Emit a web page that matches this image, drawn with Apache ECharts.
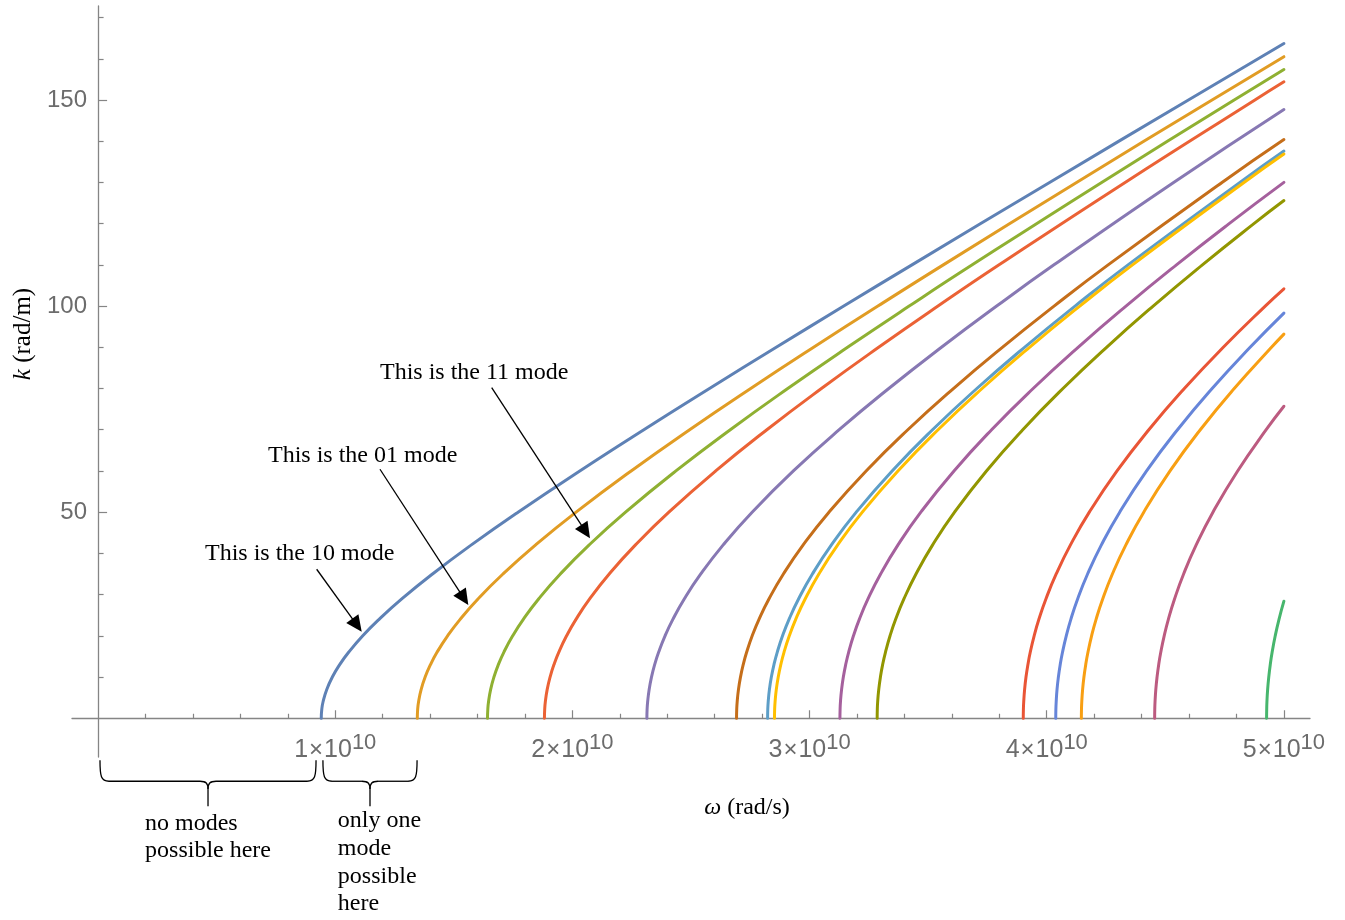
<!DOCTYPE html>
<html>
<head>
<meta charset="utf-8">
<script src="https://cdn.jsdelivr.net/npm/echarts@6/dist/echarts.min.js"></script>
<style>
html,body{margin:0;padding:0;background:#ffffff;}
#c{width:1345px;height:920px;}
</style>
</head>
<body>
<div id="c"></div>
<script>
// ---- Data: points [omega (x 1e10 rad/s), k (rad/m)] ----
const modeNames = ['10','01','11','20','21','02','30','12','31','22','32','03','13','23','33'];
const mode10 = [[0.941,0],[0.9429,2],[0.9486,4],[0.9642,7],[0.9877,10],[1.0186,13],[1.0564,16],[1.116,20],[1.1849,24],[1.2816,29],[1.41,35],[1.5726,42],[1.7707,50],[2.0311,60],[2.3012,70],[2.5779,80],[2.8593,90],[3.1441,100],[3.4316,110],[4.0119,130],[4.5973,150],[5,163.7]];
const mode01 = [[1.346,0],[1.3473,2],[1.3513,4],[1.3623,7],[1.379,10],[1.4014,13],[1.429,16],[1.4737,20],[1.5265,24],[1.6027,29],[1.7071,35],[1.8437,42],[2.0154,50],[2.2476,60],[2.4943,70],[2.7517,80],[3.0169,90],[3.2881,100],[3.5639,110],[4.1257,130],[4.697,150],[5,160.5]];
const mode11 = [[1.642,0],[1.6431,2],[1.6463,4],[1.6553,7],[1.6691,10],[1.6876,13],[1.7107,16],[1.7481,20],[1.7929,24],[1.8582,29],[1.949,35],[2.0697,42],[2.224,50],[2.4364,60],[2.6657,70],[2.9079,80],[3.1601,90],[3.42,100],[3.6859,110],[4.2315,130],[4.7902,150],[5,157.4]];
const mode20 = [[1.882,0],[1.883,2],[1.8858,4],[1.8937,7],[1.9058,10],[1.922,13],[1.9423,16],[1.9754,20],[2.015,24],[2.0734,29],[2.1551,35],[2.2649,42],[2.4067,50],[2.6042,60],[2.8199,70],[3.0499,80],[3.2912,90],[3.5415,100],[3.799,110],[4.3304,130],[4.8777,150],[5,154.4]];
const mode21 = [[2.314,0],[2.3148,2],[2.3172,4],[2.3236,7],[2.3335,10],[2.3467,13],[2.3634,16],[2.3906,20],[2.4235,24],[2.4722,29],[2.5412,35],[2.6349,42],[2.7577,50],[2.9317,60],[3.1249,70],[3.3339,80],[3.556,90],[3.7888,100],[4.0305,110],[4.5349,130],[5,147.7]];
const mode02 = [[2.692,0],[2.6927,2],[2.6947,4],[2.7002,7],[2.7087,10],[2.7201,13],[2.7345,16],[2.7581,20],[2.7867,24],[2.8291,29],[2.8896,35],[2.9723,42],[3.0817,50],[3.2384,60],[3.4142,70],[3.6065,80],[3.8128,90],[4.0308,100],[4.2588,110],[4.7389,130],[5,140.4]];
const mode30 = [[2.823,0],[2.8236,2],[2.8255,4],[2.8307,7],[2.8388,10],[2.8498,13],[2.8635,16],[2.886,20],[2.9133,24],[2.954,29],[3.0119,35],[3.0914,42],[3.1967,50],[3.348,60],[3.5184,70],[3.7053,80],[3.9063,90],[4.1193,100],[4.3427,110],[4.8145,130],[5,137.6]];
const mode12 = [[2.852,0],[2.8526,2],[2.8545,4],[2.8597,7],[2.8678,10],[2.8786,13],[2.8921,16],[2.9145,20],[2.9415,24],[2.9818,29],[3.0392,35],[3.1179,42],[3.2224,50],[3.3725,60],[3.5418,70],[3.7275,80],[3.9273,90],[4.1393,100],[4.3617,110],[4.8316,130],[5,136.9]];
const mode31 = [[3.128,0],[3.1286,2],[3.1302,4],[3.135,7],[3.1423,10],[3.1522,13],[3.1646,16],[3.185,20],[3.2097,24],[3.2467,29],[3.2995,35],[3.3722,42],[3.469,50],[3.6089,60],[3.7675,70],[3.9426,80],[4.1321,90],[4.3341,100],[4.5469,110],[4.7691,120],[5,130.0]];
const mode22 = [[3.285,0],[3.2855,2],[3.2871,4],[3.2917,7],[3.2987,10],[3.308,13],[3.3199,16],[3.3393,20],[3.3629,24],[3.3982,29],[3.4487,35],[3.5183,42],[3.6112,50],[3.7458,60],[3.8989,70],[4.0683,80],[4.2522,90],[4.4487,100],[4.6563,110],[4.8735,120],[5,125.6]];
const mode32 = [[3.901,0],[3.9015,2],[3.9029,4],[3.9067,7],[3.9125,10],[3.9205,13],[3.9304,16],[3.9469,20],[3.9669,24],[3.9969,29],[4.0399,35],[4.0995,42],[4.1795,50],[4.2963,60],[4.4304,70],[4.5802,80],[4.7443,90],[4.9212,100],[5,104.2]];
const mode03 = [[4.038,0],[4.0384,2],[4.0398,4],[4.0434,7],[4.0491,10],[4.0567,13],[4.0664,16],[4.0823,20],[4.1016,24],[4.1306,29],[4.1722,35],[4.23,42],[4.3076,50],[4.421,60],[4.5514,70],[4.6973,80],[4.8575,90],[5,98.3]];
const mode13 = [[4.146,0],[4.1464,2],[4.1477,4],[4.1513,7],[4.1568,10],[4.1643,13],[4.1737,16],[4.1891,20],[4.208,24],[4.2363,29],[4.2768,35],[4.3332,42],[4.409,50],[4.5199,60],[4.6475,70],[4.7905,80],[4.9476,90],[5,93.2]];
const mode23 = [[4.455,0],[4.4554,2],[4.4566,4],[4.4599,7],[4.4651,10],[4.472,13],[4.4808,16],[4.4952,20],[4.5128,24],[4.5392,29],[4.5771,35],[4.6297,42],[4.7008,50],[4.8049,60],[4.9252,70],[5,75.7]];
const mode33 = [[4.927,0],[4.9274,2],[4.9284,4],[4.9314,7],[4.9361,10],[4.9424,13],[4.9503,16],[4.9634,20],[4.9793,24],[5,28.4]];
const modeData = [mode10, mode01, mode11, mode20, mode21, mode02, mode30, mode12, mode31, mode22, mode32, mode03, mode13, mode23, mode33];

// ---- Tick values ----
const xMajorTicks = [1, 2, 3, 4, 5];
const xMinorTicks = [0.2,0.4,0.6,0.8,1.2,1.4,1.6,1.8,2.2,2.4,2.6,2.8,3.2,3.4,3.6,3.8,4.2,4.4,4.6,4.8];
const yMajorTicks = [50, 100, 150];
const yMinorTicks = [10,20,30,40,60,70,80,90,110,120,130,140,160,170];

// ---- Styles ----
const palette = ['#5E81B5','#E19C24','#8FB032','#EB6235','#8778B3','#C56E1A','#5D9EC7','#FFBF00','#A5609D','#929600','#E95536','#6685D9','#F89F13','#BC5B80','#47B66D'];
const AXIS = '#858585';
const LABEL = '#6c6c6c';
const SANS = '"Liberation Sans", Arial, sans-serif';
const SERIF = '"Liberation Serif", "Times New Roman", serif';

const gridBox = {left: 72, right: 35, top: 6, bottom: 163, outerBoundsMode: 'none', containLabel: false};
const xRange = {min: -0.11, max: 5.11};
const yRange = {min: -9.4, max: 172.8};

const option = {
  animation: false,
  backgroundColor: '#ffffff',
  grid: [Object.assign({}, gridBox), Object.assign({}, gridBox)],
  xAxis: [
    {
      gridIndex: 0, type: 'value', min: xRange.min, max: xRange.max,
      axisLine: {onZero: true, lineStyle: {color: AXIS, width: 1.3}},
      axisTick: {inside: true, length: 8, customValues: xMajorTicks, lineStyle: {color: AXIS, width: 1.2}},
      axisLabel: {
        customValues: xMajorTicks, margin: -19,
        formatter: function (v) { return '{m|' + v + '}{t|×}{m|10}{s|10}'; },
        rich: {
          m: {fontSize: 25, fontFamily: SANS, color: LABEL, lineHeight: 25, verticalAlign: 'bottom'},
          t: {fontSize: 24, fontFamily: SANS, color: LABEL, lineHeight: 25, verticalAlign: 'bottom', padding: [0, 1, 1, 1]},
          s: {fontSize: 22, fontFamily: SANS, color: LABEL, lineHeight: 22, verticalAlign: 'bottom', padding: [0, 0, 9, 0]}
        }
      },
      splitLine: {show: false}
    },
    {
      gridIndex: 1, type: 'value', min: xRange.min, max: xRange.max,
      axisLine: {show: false, onZero: true},
      axisTick: {inside: true, length: 4.5, customValues: xMinorTicks, lineStyle: {color: AXIS, width: 1.2}},
      axisLabel: {show: false},
      splitLine: {show: false}
    }
  ],
  yAxis: [
    {
      gridIndex: 0, type: 'value', min: yRange.min, max: yRange.max,
      axisLine: {onZero: true, lineStyle: {color: AXIS, width: 1.3}},
      axisTick: {inside: true, length: 9, customValues: yMajorTicks, lineStyle: {color: AXIS, width: 1.2}},
      axisLabel: {customValues: yMajorTicks, margin: -15, fontSize: 24, fontFamily: SANS, color: LABEL},
      splitLine: {show: false}
    },
    {
      gridIndex: 1, type: 'value', min: yRange.min, max: yRange.max,
      axisLine: {show: false, onZero: true},
      axisTick: {inside: true, length: 5.5, customValues: yMinorTicks, lineStyle: {color: AXIS, width: 1.2}},
      axisLabel: {show: false},
      splitLine: {show: false}
    }
  ],
  series: modeData.map(function (d, i) {
    return {
      name: 'TE' + modeNames[i],
      type: 'line',
      xAxisIndex: 0, yAxisIndex: 0,
      data: d,
      smooth: 0.5,
      symbol: 'none',
      showSymbol: false,
      silent: true,
      lineStyle: {color: palette[i], width: 3, cap: 'round', join: 'round'},
      itemStyle: {color: palette[i]},
      z: 2 + i
    };
  })
};

const chart = echarts.init(document.getElementById('c'), null, {renderer: 'canvas'});
chart.setOption(option);

// ---- Annotations (anchored in data coordinates) ----
const notes = [
  {text: 'This is the 10 mode', at: [0.4508, 39.86], from: [0.9217, 36.15], to: [1.1115, 21.01]},
  {text: 'This is the 01 mode', at: [0.7164, 63.76], from: [1.1886, 60.41], to: [1.5610, 27.49]},
  {text: 'This is the 11 mode', at: [1.1886, 83.89], from: [1.6596, 80.20], to: [2.0741, 43.67]}
];
const braces = [
  {from: 0.008, to: 0.919, textAt: 0.198, text: 'no modes\npossible here', textTop: 810, lh: 27},
  {from: 0.948, to: 1.345, textAt: 1.011, text: 'only one\nmode\npossible\nhere', textTop: 806.8, lh: 27.8}
];

function P(x, y) { return chart.convertToPixel({gridIndex: 0}, [x, y]); }
const y0 = P(0, 0)[1];
const g = [];

notes.forEach(function (n) {
  const p = P(n.at[0], n.at[1]);
  g.push({type: 'text', x: p[0], y: p[1], silent: true, z: 100,
    style: {text: n.text, fontSize: 24, fontFamily: SERIF, fill: '#000',
      align: 'left', verticalAlign: 'middle', textAlign: 'left', textVerticalAlign: 'middle'}});
  const s = P(n.from[0], n.from[1]), t = P(n.to[0], n.to[1]);
  const dx = t[0] - s[0], dy = t[1] - s[1], len = Math.hypot(dx, dy);
  const ux = dx / len, uy = dy / len;
  const L = 16, W = 7.5;
  const bx = t[0] - ux * L, by = t[1] - uy * L;
  g.push({type: 'line', silent: true, z: 100,
    shape: {x1: s[0], y1: s[1], x2: bx + ux * 3, y2: by + uy * 3},
    style: {stroke: '#000', lineWidth: 1.3}});
  g.push({type: 'polygon', silent: true, z: 100,
    shape: {points: [[t[0], t[1]], [bx - uy * W, by + ux * W], [bx + uy * W, by - ux * W]]},
    style: {fill: '#000'}});
});

function bracePieces(xa, xb, top) {
  const m = (xa + xb) / 2, h = top + 21, tip = top + 46;
  const st = {stroke: '#000', lineWidth: 1.3, fill: 'none'};
  const mk = function (type, shape) { return {type: type, shape: shape, style: st, silent: true, z: 100}; };
  return [
    mk('bezierCurve', {x1: xa, y1: top, cpx1: xa, cpy1: top + 16, cpx2: xa + 1, cpy2: h, x2: xa + 9, y2: h}),
    mk('line', {x1: xa + 9, y1: h, x2: m - 8, y2: h}),
    mk('bezierCurve', {x1: m - 8, y1: h, cpx1: m - 2, cpy1: h, cpx2: m, cpy2: h + 2, x2: m, y2: h + 8}),
    mk('line', {x1: m, y1: h + 8, x2: m, y2: tip}),
    mk('bezierCurve', {x1: m + 8, y1: h, cpx1: m + 2, cpy1: h, cpx2: m, cpy2: h + 2, x2: m, y2: h + 8}),
    mk('line', {x1: m + 8, y1: h, x2: xb - 9, y2: h}),
    mk('bezierCurve', {x1: xb, y1: top, cpx1: xb, cpy1: top + 16, cpx2: xb - 1, cpy2: h, x2: xb - 9, y2: h})
  ];
}

braces.forEach(function (b) {
  const xa = P(b.from, 0)[0], xb = P(b.to, 0)[0];
  bracePieces(xa, xb, y0 + 42).forEach(function (e) { g.push(e); });
  g.push({type: 'text', x: P(b.textAt, 0)[0], y: b.textTop, silent: true, z: 100,
    style: {text: b.text, fontSize: 24, fontFamily: SERIF, fill: '#000', lineHeight: b.lh,
      align: 'left', verticalAlign: 'top', textAlign: 'left', textVerticalAlign: 'top'}});
});

// axis titles
g.push({type: 'text', x: 747, y: 808, silent: true, z: 100,
  style: {text: '{i|ω} {r|(rad/s)}', fontSize: 24, fontFamily: SERIF, fill: '#000',
    align: 'center', verticalAlign: 'middle', textAlign: 'center', textVerticalAlign: 'middle',
    rich: {
      i: {fontSize: 24, fontFamily: SERIF, fontStyle: 'italic', fill: '#000'},
      r: {fontSize: 24, fontFamily: SERIF, fontStyle: 'normal', fill: '#000'}
    }}});
g.push({type: 'text', x: 23.5, y: 334, rotation: Math.PI / 2, silent: true, z: 100,
  style: {text: '{i|k} {r|(rad/m)}', fontSize: 25, fontFamily: SERIF, fill: '#000',
    align: 'center', verticalAlign: 'middle', textAlign: 'center', textVerticalAlign: 'middle',
    rich: {
      i: {fontSize: 25, fontFamily: SERIF, fontStyle: 'italic', fill: '#000'},
      r: {fontSize: 25, fontFamily: SERIF, fontStyle: 'normal', fill: '#000'}
    }}});

chart.setOption({graphic: {elements: g}});
</script>
</body>
</html>
